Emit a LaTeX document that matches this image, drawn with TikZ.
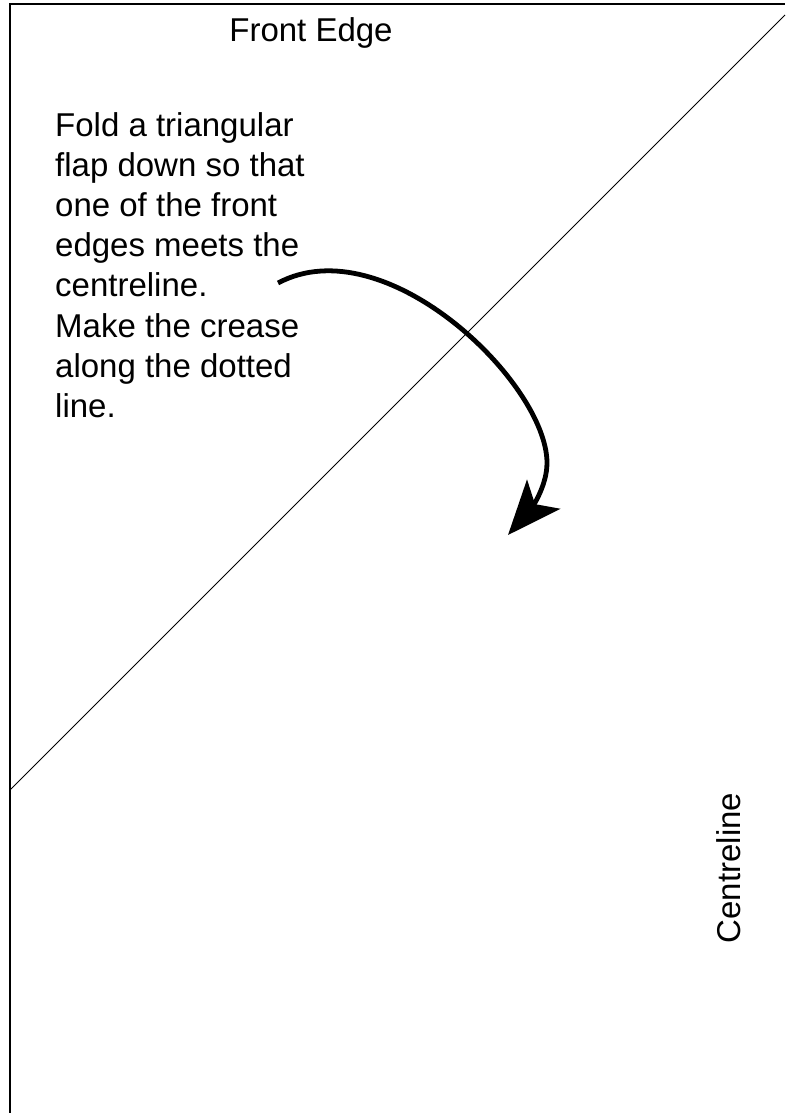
\documentclass[tikz,border=0pt]{standalone}
\usepackage{fontspec}
\setmainfont{Liberation Sans}
\usepackage{tikz}
\usetikzlibrary{positioning,arrows.meta}

\begin{document}
\begin{tikzpicture}[x=1pt, y=1pt,
    label/.style={inner sep=0pt, font=\fontsize{33}{40.2}\selectfont},
    note/.style={label, align=left, anchor=north west},
    edge/.style={line width=1.6pt},
    crease/.style={line width=1pt},
    arrow/.style={-{Stealth[length=54pt, width=44pt, inset=13pt]}, line width=4.8pt}
]
    \useasboundingbox (0,0) rectangle (785,-1113);
    % paper edges and the crease
    \draw[edge] (10,-1113) -- (10,-4) -- (785,-4);
    \draw[crease] (10,-790) -- (785,-15);
    % labels
    \node[label, anchor=base] (frontedge) at (311,-42) {Front Edge};
    \node[label, rotate=90, anchor=base] (centreline) at (740,-868) {Centreline};
    \node[note] (steps) at (55,-112) {Fold a triangular\\flap down so that\\one of the front\\edges meets the\\centreline.\\Make the crease\\along the dotted\\line.};
    % fold arrow
    \coordinate (foldstart) at (278,-283);
    \coordinate (foldturn) at (547,-463);
    \coordinate (foldend) at (508,-535);
    \draw[arrow] (foldstart) .. controls (385,-226) and (547,-383) .. (foldturn)
        .. controls (547,-488) and (529,-511) .. (foldend);
\end{tikzpicture}
\end{document}
